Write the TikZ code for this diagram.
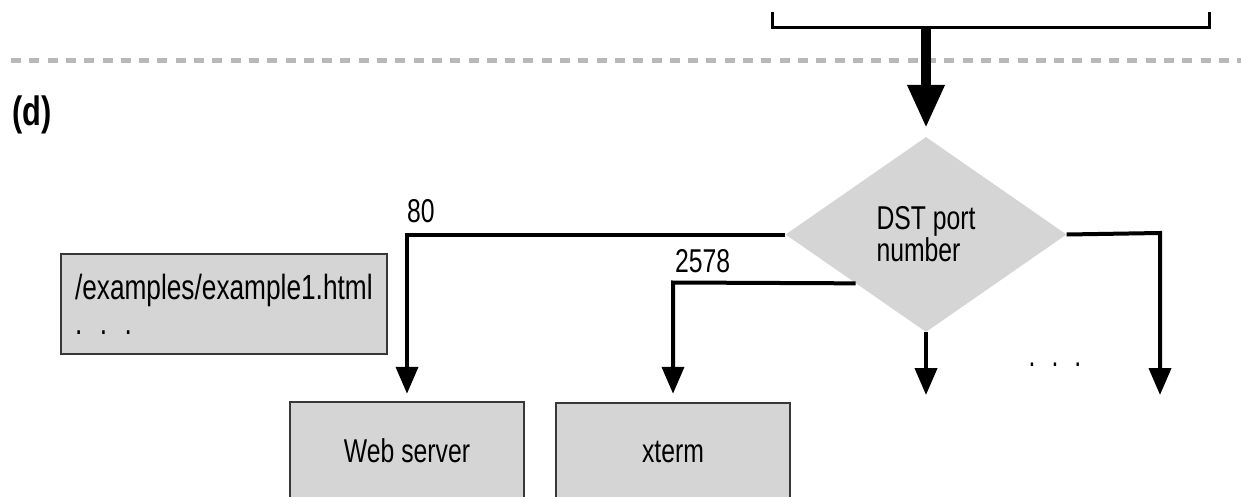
\documentclass[tikz,border=0pt]{standalone}
\usepackage{fontspec}
\setmainfont{Liberation Sans}[FakeStretch=0.75]
\usetikzlibrary{positioning,arrows.meta,shapes.geometric,calc}
\definecolor{boxgray}{HTML}{D5D5D5}
\definecolor{edgegray}{HTML}{383838}
\definecolor{dashgray}{HTML}{B8B8B8}
\newcommand{\lbl}{\fontsize{33}{30}\selectfont}
\begin{document}
\begin{tikzpicture}[x=1pt, y=-1pt,
  box/.style={draw=edgegray, line width=2.5pt, fill=boxgray, minimum width=234pt, minimum height=98pt, font=\lbl},
  flow/.style={line width=4pt, -{Triangle[width=22pt,length=27pt]}},
  port/.style={font=\lbl, inner sep=0pt, anchor=base west}]
  \useasboundingbox (0,0) rectangle (1241,497);
  % upper part, cut off
  \coordinate (bl) at (772,12);
  \coordinate (br) at (1209,12);
  \coordinate (bmid) at (926,28);
  \draw[line width=3pt] (bl) -- (772,28) -- (1209,28) -- (br);
  \draw[dashgray, line width=4.5pt, dash pattern=on 10pt off 8.3pt] (11,60.5) -- (1241,60.5);
  \node[font=\fontsize{41}{41}\selectfont\bfseries, inner sep=0pt, anchor=base west] (tag) at (12,126) {(d)};
  % decision
  \node[diamond, fill=boxgray, minimum width=281pt, minimum height=195pt, inner sep=0pt, align=left, font=\lbl] (dst) at (926,234.5) {DST port\\number};
  \draw[line width=10pt, -{Triangle[width=35pt,length=43pt]}, shorten >=9pt] (bmid) -- (dst.north);
  % targets
  \node[box] (web) at (407,451) {Web server};
  \node[box] (xterm) at (673,452) {xterm};
  \node[box, minimum width=326pt, minimum height=100pt, align=left, text width=298pt, inner xsep=14pt, font=\fontsize{35}{35}\selectfont] (urls) at (224,304) {/examples/example1.html\\. . .};
  \coordinate (k80) at (web.north |- dst.west);
  \coordinate (k2578) at (xterm.north |- 0,282.5);
  \coordinate (dn) at (926,395);
  \coordinate (kr) at (1160,233);
  \coordinate (rn) at (1160,395);
  \draw[flow, shorten >=7pt] (dst.west) -- (k80) -- (web.north);
  \draw[flow, shorten >=8pt] ($(dst.west)!0.5!(dst.south)$) -- (k2578) -- (xterm.north);
  \draw[flow] (dst.south) -- (dn);
  \draw[flow] (dst.east) -- (kr) -- (rn);
  \node[port] (p80) at ([yshift=12pt]k80) {80};
  \node[port] (p2578) at ([xshift=2pt, yshift=10pt]k2578) {2578};
  \node[font=\lbl, inner sep=0pt, anchor=base] (more) at (1055,366) {. \ . \ .};
\end{tikzpicture}
\end{document}
